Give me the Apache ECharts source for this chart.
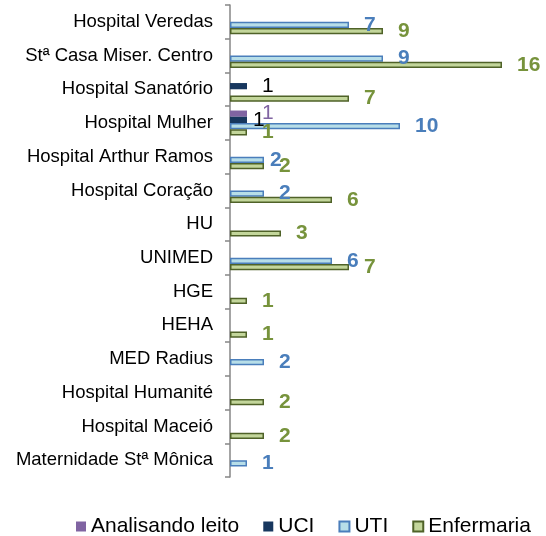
<!DOCTYPE html>
<html>
<head>
<meta charset="utf-8">
<script src="https://cdn.jsdelivr.net/npm/echarts@6/dist/echarts.min.js"></script>
<style>
  html, body { margin: 0; padding: 0; background: #fff; }
  #chart { width: 546px; height: 536px; }
</style>
</head>
<body>
<div id="chart"></div>
<script>
const hospitals = [
    'Hospital Veredas', 'Stª Casa Miser. Centro', 'Hospital Sanatório', 'Hospital Mulher',
    'Hospital Arthur Ramos', 'Hospital Coração', 'HU', 'UNIMED', 'HGE', 'HEHA',
    'MED Radius', 'Hospital Humanité', 'Hospital Maceió', 'Maternidade Stª Mônica'
]
const analisando = [0, 0, 0, 1, 0, 0, 0, 0, 0, 0, 0, 0, 0, 0]
const uci = [0, 0, 1, 1, 0, 0, 0, 0, 0, 0, 0, 0, 0, 0]
const uti = [7, 9, 0, 10, 2, 2, 0, 6, 0, 0, 2, 0, 0, 1]
const enfermaria = [9, 16, 7, 1, 2, 6, 3, 7, 1, 1, 0, 2, 2, 0]

const font = 'Liberation Sans, Arial, sans-serif'

// a couple of labels sit closer to their bar in the original
const closeLabels = { 'UCI': [3], 'UTI': [4] }

function barSeries(name, data, fill, border, labelColor, bold) {
    const near = closeLabels[name] || []
    return {
        name,
        type: 'bar',
        // zeros are not drawn
        data: data.map((v, i) => {
            if (v === 0) return null
            if (near.includes(i)) return { value: v, label: { distance: 6 } }
            return v
        }),
        barGap: '0%',
        barCategoryGap: '26%',
        itemStyle: { color: fill, borderColor: border, borderWidth: border ? 1.5 : 0 },
        label: {
            show: true,
            position: 'right',
            distance: 15,
            color: labelColor,
            fontFamily: font,
            fontSize: 21,
            fontWeight: bold ? 'bold' : 'normal'
        }
    }
}

const chart = echarts.init(document.getElementById('chart'))
chart.setOption({
    animation: false,
    textStyle: { fontFamily: font },
    legend: {
        left: 71,
        top: 511,
        width: 471,
        itemWidth: 10,
        itemHeight: 10,
        itemGap: 24,
        icon: 'rect',
        textStyle: { fontFamily: font, fontSize: 21, color: '#000' }
    },
    grid: { left: 230, right: 10, top: 5, bottom: 59, containLabel: false },
    xAxis: {
        type: 'value',
        min: 0,
        max: 18,
        show: false
    },
    yAxis: {
        type: 'category',
        inverse: true,
        data: hospitals,
        axisLine: { show: true, lineStyle: { color: '#868686', width: 1.5 } },
        axisTick: { show: true, length: 5, lineStyle: { color: '#868686', width: 1.5 } },
        axisLabel: { color: '#000', fontFamily: font, fontSize: 18.5, margin: 17 }
    },
    series: [
        barSeries('Analisando leito', analisando, '#8064A2', null, '#8064A2', false),
        barSeries('UCI', uci, '#17375E', null, '#000', false),
        barSeries('UTI', uti, '#B7DEE8', '#4A7EBB', '#4A7EBB', true),
        barSeries('Enfermaria', enfermaria, '#C3D69B', '#4F6228', '#77933C', true)
    ]
})
</script>
</body>
</html>
